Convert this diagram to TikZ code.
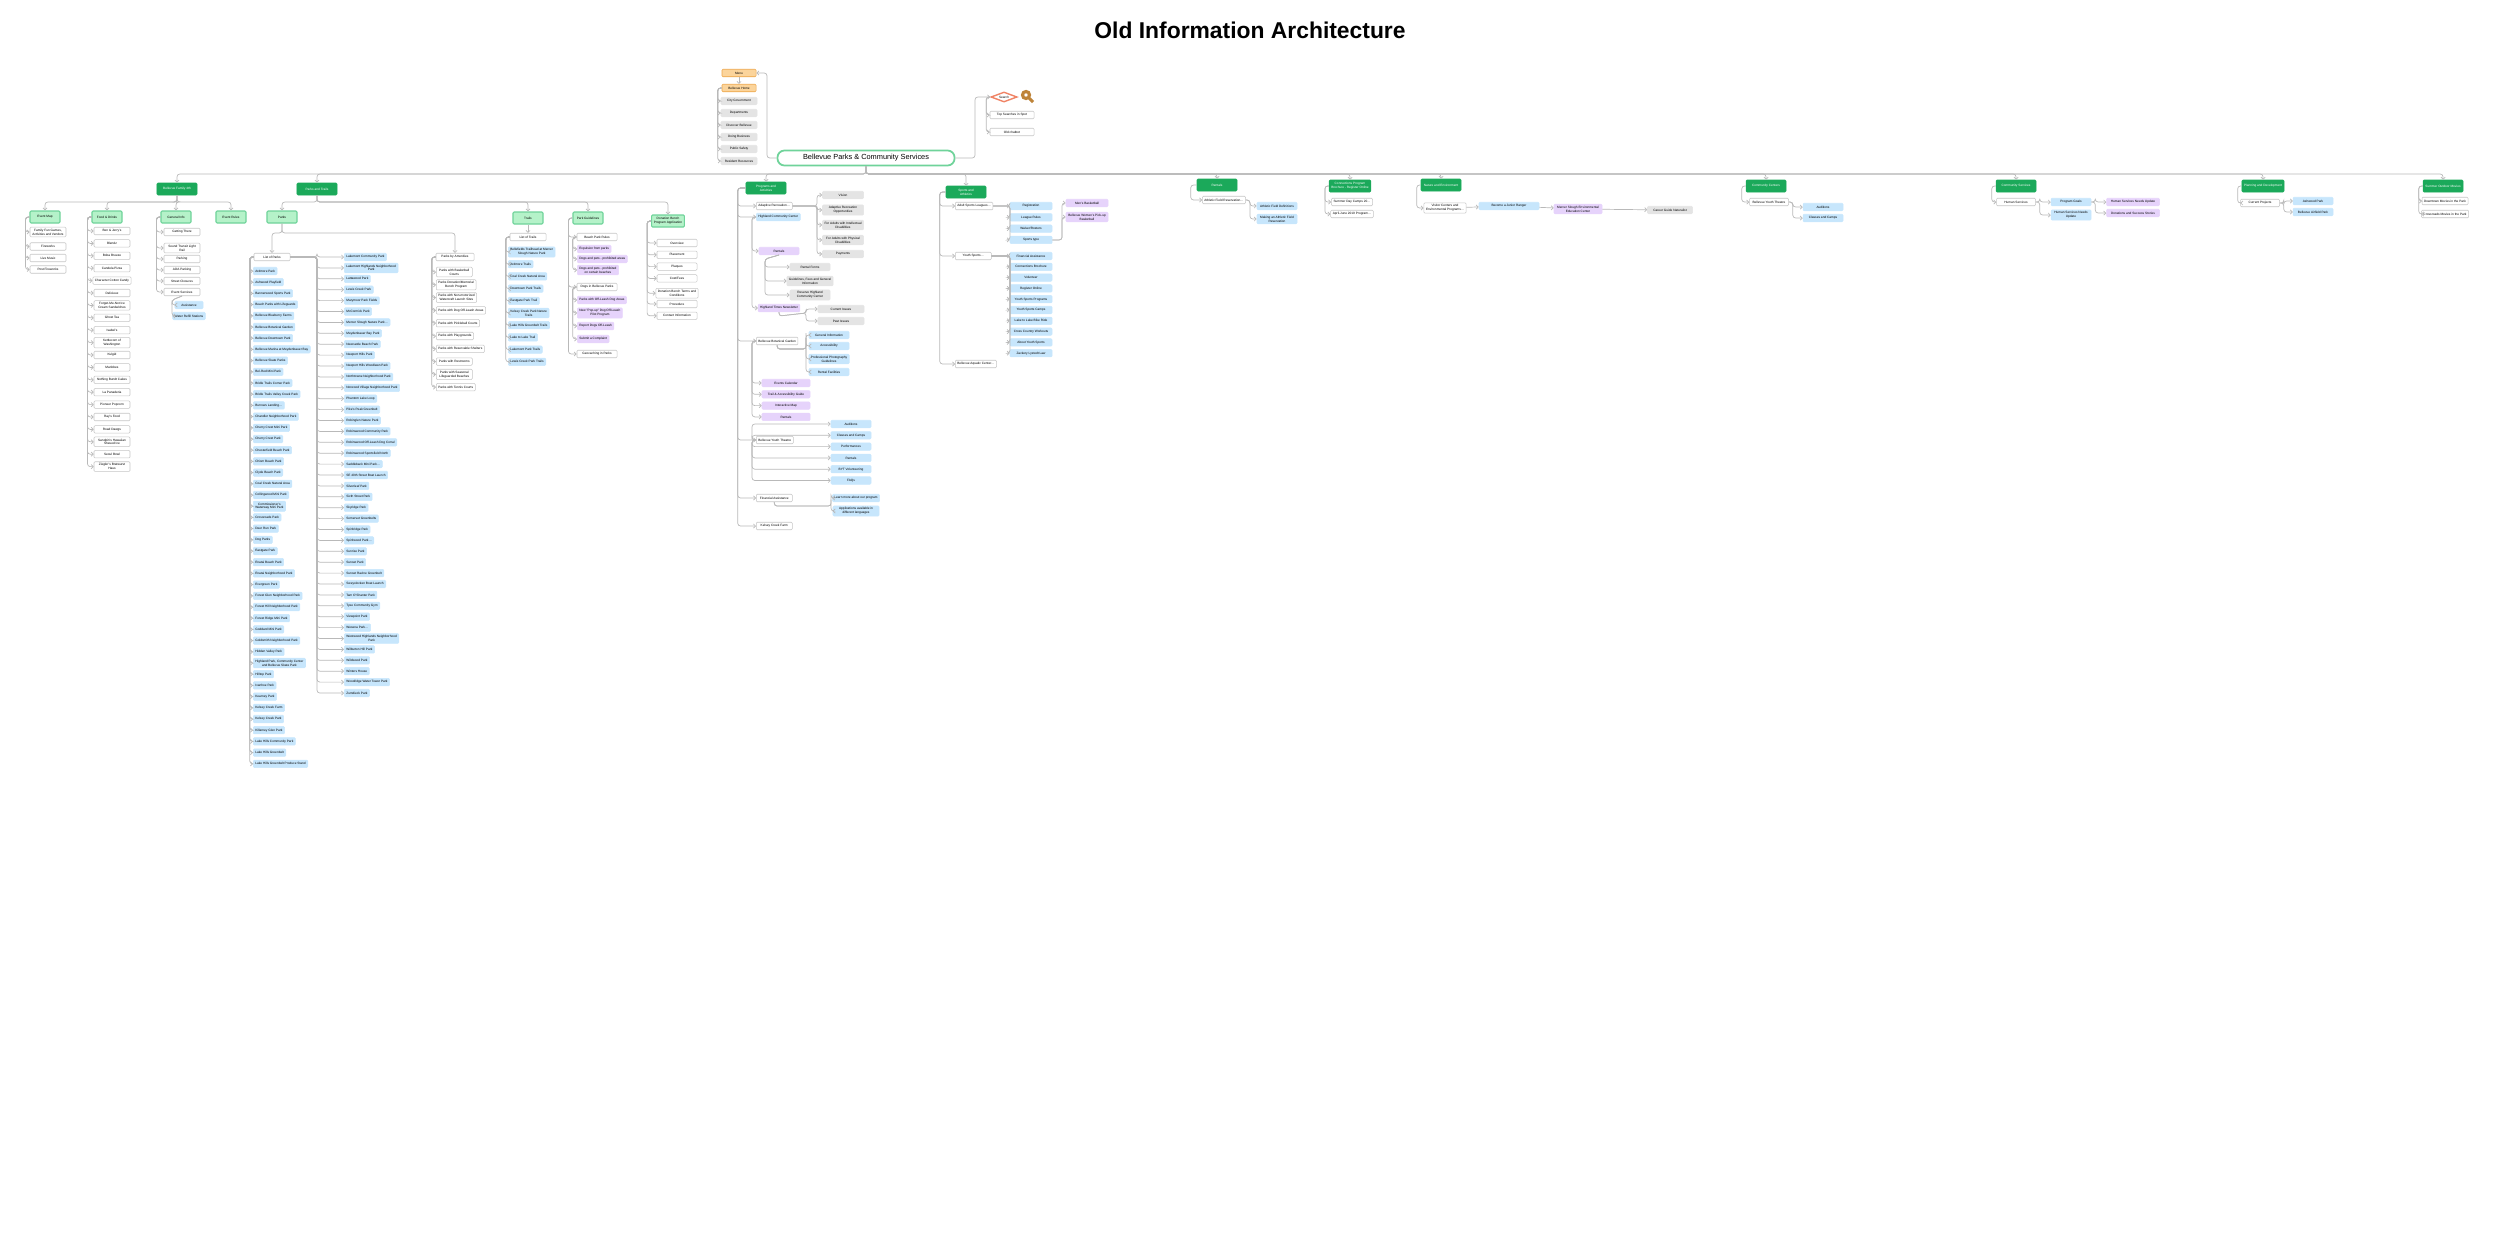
\documentclass[tikz,border=0pt]{standalone}
\usepackage{fontspec}
\setmainfont{Liberation Sans}
\usetikzlibrary{shapes.geometric,arrows.meta}
\definecolor{topgreen}{HTML}{1BA95A}
\definecolor{secgreen}{HTML}{B5F2C9}
\definecolor{secline}{HTML}{6FD39A}
\definecolor{bluefill}{HTML}{C7E6FC}
\definecolor{purfill}{HTML}{E6D3FB}
\definecolor{gryfill}{HTML}{E4E4E4}
\definecolor{orgfill}{HTML}{FBD49B}
\definecolor{orgline}{HTML}{EDA548}
\definecolor{srchline}{HTML}{F08466}
\tikzset{
  box/.style={draw=gray!45,fill=white,line width=0.15pt,rounded corners=0.3pt,inner xsep=0.6pt,inner ysep=0.5pt,
    minimum height=0.075cm,align=center,font=\fontsize{0.9}{1.1}\selectfont},
  leaf/.style={box,minimum width=0.36cm},
  blu/.style={box,fill=bluefill,draw=bluefill},
  pur/.style={box,fill=purfill,draw=purfill},
  gry/.style={box,fill=gryfill,draw=gryfill,minimum width=0.36cm},
  org/.style={box,fill=orgfill,draw=orgline,minimum width=0.34cm},
  top/.style={box,fill=topgreen,draw=topgreen,text=white,minimum width=0.4cm,minimum height=0.12cm},
  sec/.style={box,fill=secgreen,draw=secline,line width=0.3pt,minimum width=0.3cm,minimum height=0.12cm},
  link/.style={draw=gray!55,line width=0.2pt,rounded corners=0.8pt,-{Straight Barb[length=0.6pt,width=1.2pt,line width=0.2pt]}},
}
\begin{document}
\begin{tikzpicture}[x=0.01cm,y=-0.01cm]
\useasboundingbox (0,0) rectangle (2500,1251);
\node[font=\fontsize{6.5}{8}\selectfont\bfseries] (title) at (1250,30) {Old Information Architecture};
% root and site menu
\node[box,draw=secline,line width=0.5pt,rounded corners=0.07cm,minimum width=1.77cm,minimum height=0.15cm,
  font=\fontsize{2.1}{2.5}\selectfont] (root) at (866,158) {Bellevue Parks \& Community Services};
\node[org] (menu) at (739,73) {Menu};
\node[org] (home) at (739,88) {Bellevue Home};
\draw[link] (root.west) -- (767,158) |- (menu.east);
\draw[link] (menu) -- (home);
\foreach \t [count=\i] in {City Government,Departments,Discover Bellevue,Doing Business,Public Safety,Resident Resources}
  {\node[gry] (mn\i) at (739,{101+12*(\i-1)}) {\t};
   \draw[link] (home.west) -- ++(-4,0) |- (mn\i.west);}
\node[diamond,draw=srchline,line width=0.4pt,aspect=2.6,inner sep=0.4pt,font=\fontsize{0.9}{1.1}\selectfont] (search) at (1004,97) {Search};
\draw[draw=orgline!80!black,line width=0.9pt] (1026,95) circle (3.5) (1029,98) -- (1033,102);
\node[leaf,minimum width=0.44cm] (topsr) at (1012,115) {Top Searches in Spot};
\node[leaf,minimum width=0.44cm] (chat) at (1012,132) {Old chatbot};
\draw[link] (root.east) -- (975,158) |- (search.west);
\draw[link] (search.west) -- ++(-4,0) |- (topsr.west);
\draw[link] (search.west) -- ++(-4,0) |- (chat.west);
% top level
\foreach \n/\x/\y/\t in {fam/177/189/Bellevue Family 4th,pat/317/189/Parks and Trails,
  prg/766/188/Programs and\\Activities,spa/966/192/Sports and\\Athletics,ren/1217/185/Rentals,
  con/1350/186/Connections Program\\Brochure - Register Online,nat/1441/185/Nature and Environment,
  cce/1766/186/Community Centers,cse/2016/186/Community Services,pad/2263/186/Planning and Development,
  som/2443/186/Summer Outdoor Movies}
  {\node[top] (\n) at (\x,\y) {\t};
   \draw[link] (root.south) -- (866,174) -| (\n.north);}
% Bellevue Family 4th
\foreach \n/\x/\t in {emap/45/Event Map,food/107/Food \& Drinks,ginf/176/General Info,erul/231/Event Rules}
  {\node[sec] (\n) at (\x,217) {\t}; \draw[link] (fam.south) -- (177,202) -| (\n.north);}
\foreach \t [count=\i] in {{Family Fun Games,\\Activities and Vendors},Fireworks,Live Music,Post Fireworks}
  {\node[leaf] (em\i) at (48,{232+11.5*(\i-1)+(\i>1)*3}) {\t}; \draw[link] (emap.west) -- ++(-4,0) |- (em\i.west);}
\foreach \t [count=\i] in {Ben \& Jerry's,Blendz,Boba Breeze,Candela Pizza,Character Cotton Candy,Delicieux,
  Forget-Me-Not Ice\\Cream Sandwiches,Ghost Tea,Isabel's,Kettlecorn of\\Washington,Kulgid,Marlobes,Nothing Bundt Cakes,
  La Panaderia,Pioneer Popcorn,Ray's Food,Road Dawgs,Sandpin's Hawaiian\\Shaved Ice,Seoul Bowl,Ziegler's Bratwurst\\Haus}
  {\node[leaf] (fd\i) at (112,{231+12.4*(\i-1)}) {\t}; \draw[link] (food.west) -- ++(-4,0) |- (fd\i.west);}
\foreach \t [count=\i] in {Getting There,Sound Transit Light\\Rail,Parking,ADA Parking,Street Closures,Event Services}
  {\node[leaf] (gi\i) at (182,{232+11*(\i-1)+(\i>1)*5}) {\t}; \draw[link] (ginf.west) -- ++(-4,0) |- (gi\i.west);}
\node[blu,minimum width=0.28cm] (es1) at (189,305) {Assistance};
\node[blu,minimum width=0.28cm] (es2) at (189,316) {Water Refill Stations};
\foreach \c in {es1,es2} \draw[link] (gi6.south) -- ++(-10,4) |- (\c.west);
% Parks and Trails
\foreach \n/\x/\y/\t in {parks/282/217/Parks,trails/528/218/Trails,pgui/588/218/Park Guidelines,
  dben/668/221/Donation Bench\\Program Application}
  {\node[sec] (\n) at (\x,\y) {\t}; \draw[link] (pat.south) -- (317,202) -| (\n.north);}
\node[leaf] (lpk) at (272,257) {List of Parks};
\node[leaf,minimum width=0.38cm] (amen) at (455,257) {Parks by Amenities};
\draw[link] (parks.south) -- (282,233) -| (lpk.north);
\draw[link] (parks.south) -- (282,233) -| (amen.north);
\foreach \t [count=\i] in {Ardmore Park,Ashwood Playfield,Bannerwood Sports Park,Beach Parks with Lifeguards,
  Bellevue Blueberry Farms,Bellevue Botanical Garden,Bellevue Downtown Park,Bellevue Marina at Meydenbauer Bay,
  Bellevue Skate Parks,Bel-Red Mini Park,Bridle Trails Corner Park,Bridle Trails Valley Creek Park,Burrows Landing\dots,
  Chandler Neighborhood Park,Cherry Crest Mini Park,Cherry Crest Park,Chesterfield Beach Park,Chism Beach Park,
  Clyde Beach Park,Coal Creek Natural Area,Collingwood Mini Park,Commissioner's\\Waterway Mini Park,Crossroads Park,
  Deer Run Park,Dog Parks,Eastgate Park,Enatai Beach Park,Enatai Neighborhood Park,Evergreen Park,
  Forest Glen Neighborhood Park,Forest Hill Neighborhood Park,Forest Ridge Mini Park,Goddard Mini Park,
  Goldsmith Neighborhood Park,Hidden Valley Park,{Highland Park, Community Center\\and Bellevue Skate Park},
  Hilltop Park,Ivanhoe Park,Kearney Park,Kelsey Creek Farm,Kelsey Creek Park,Killarney Glen Park,
  Lake Hills Community Park,Lake Hills Greenbelt,Lake Hills Greenbelt Produce Stand}
  {\node[blu,anchor=west] (pa\i) at (253,{271+11.2*(\i-1)}) {\t}; \draw[link] (lpk.west) -- ++(-4,0) |- (pa\i.west);}
\foreach \t [count=\i] in {Lakemont Community Park,Lakemont Highlands Neighborhood\\Park,Lattawood Park,Lewis Creek Park,
  Marymoor Park Fields,McCormick Park,Mercer Slough Nature Park\dots,Meydenbauer Bay Park,Newcastle Beach Park,
  Newport Hills Park,Newport Hills Woodlawn Park,Northtowne Neighborhood Park,Norwood Village Neighborhood Park,
  Phantom Lake Loop,Pike's Peak Greenbelt,Robinglen Nature Park,Robinswood Community Park,
  Robinswood Off-Leash Dog Corral,Robinswood Sportsfield North,Saddleback Mini Park\dots,SE 40th Street Boat Launch,
  Silverleaf Park,Sixth Street Park,Skyridge Park,Somerset Greenbelts,Spiritridge Park,Spiritwood Park\dots,
  Sunrise Park,Sunset Park,Sunset Ravine Greenbelt,Sweyolocken Boat Launch,Tam O'Shanter Park,Tyee Community Gym,
  Viewpoint Park,Wesena Park\dots,Westwood Highlands Neighborhood\\Park,Wilburton Hill Park,Wildwood Park,
  Winters House,Woodridge Water Tower Park,Zumdieck Park}
  {\node[blu,anchor=west] (pb\i) at (344,{257+10.9*(\i-1)}) {\t}; \draw[link] (lpk.east) -- (317,257) |- (pb\i.west);}
\foreach \t [count=\i] in {Parks with Basketball\\Courts,Parks Donation/Memorial\\Bench Program,
  Parks with Non-motorized\\Watercraft Launch Sites,Parks with Dog Off-Leash Areas,Parks with Pickleball Courts,
  Parks with Playgrounds,Parks with Reservable Shelters,Parks with Restrooms,Parks with Seasonal\\Lifeguarded Beaches,
  Parks with Tennis Courts}
  {\node[leaf,anchor=west] (am\i) at (436,{272+12.8*(\i-1)}) {\t}; \draw[link] (amen.west) -- ++(-4,0) |- (am\i.west);}
\node[leaf] (ltr) at (528,237) {List of Trails};
\draw[link] (trails) -- (ltr);
\foreach \t [count=\i] in {Bellefields Trailhead at Mercer\\Slough Nature Park,Ardmore Trails,Coal Creek Natural Area,
  Downtown Park Trails,Eastgate Park Trail,Kelsey Creek Park Nature\\Trails,Lake Hills Greenbelt Trails,
  Lake to Lake Trail,Lakemont Park Trails,Lewis Creek Park Trails}
  {\node[blu,anchor=west] (tr\i) at (508,{252+12.2*(\i-1)}) {\t}; \draw[link] (ltr.west) -- ++(-4,0) |- (tr\i.west);}
\foreach \n/\y/\t in {g1/237/Beach Park Rules,g2/287/Dogs in Bellevue Parks,g3/354/Geocaching in Parks}
  {\node[leaf,minimum width=0.4cm] (\n) at (597,\y) {\t}; \draw[link] (pgui.west) -- ++(-4,0) |- (\n.west);}
\foreach \t [count=\i] in {Expulsion from parks,Dogs and pets - prohibited areas,Dogs and pets - prohibited\\on certain beaches}
  {\node[pur,anchor=west] (gb\i) at (577,{249+10*(\i-1)+(\i>2)*1}) {\t}; \draw[link] (g1.west) -- ++(-4,0) |- (gb\i.west);}
\foreach \t [count=\i] in {Parks with Off-Leash Dog Areas,New "Pop-up" Dog Off-Leash\\Pilot Program,Report Dogs Off-Leash,Submit a Complaint}
  {\node[pur,anchor=west] (gd\i) at (577,{300+13*(\i-1)}) {\t}; \draw[link] (g2.west) -- ++(-4,0) |- (gd\i.west);}
\foreach \t [count=\i] in {Overview,Placement,Plaques,Cost/Fees,Donation Bench Terms and\\Conditions,Procedure,Contact Information}
  {\node[leaf,minimum width=0.4cm] (db\i) at (677,{243+11.8*(\i-1)+(\i>4)*3-(\i>5)*1}) {\t}; \draw[link] (dben.west) -- ++(-4,0) |- (db\i.west);}
% Programs and Activities
\foreach \n/\s/\y/\t in {ar/leaf/206/Adaptive Recreation\dots,hcc/blu/217/Highland Community Center,
  bbg/leaf/341/Bellevue Botanical Garden,byt/leaf/440/Bellevue Youth Theatre,fin/leaf/498/Financial Assistance,
  kcf/leaf/526/Kelsey Creek Farm}
  {\node[\s,anchor=west] (\n) at (756,\y) {\t}; \draw[link] (prg.west) -- ++(-8,0) |- (\n.west);}
\foreach \t [count=\i] in {Vision,Adaptive Recreation\\Opportunities,For Adults with Intellectual\\Disabilities,
  For Adults with Physical\\Disabilities,Payments}
  {\node[gry,minimum width=0.41cm] (av\i) at (843,{195+15*(\i-1)-(\i>4)*1}) {\t}; \draw[link] (ar.east) -- (817,206) |- (av\i.west);}
\node[pur,minimum width=0.4cm] (hre) at (779,251) {Rentals};
\node[pur,minimum width=0.4cm] (htn) at (779,308) {Highland Times Newsletter};
\foreach \c in {hre,htn} \draw[link] (hcc.west) -- ++(-4,0) |- (\c.west);
\foreach \t [count=\i] in {Rental Forms,{Guidelines, Fees and General\\Information},Reserve Highland\\Community Center}
  {\node[gry,minimum width=0.4cm] (rf\i) at (810,{267+14*(\i-1)}) {\t}; \draw[link] (hre.south) -- ++(-14,4) |- (rf\i.west);}
\foreach \t [count=\i] in {Current Issues,Past Issues}
  {\node[gry,minimum width=0.46cm] (ci\i) at (841,{309+12*(\i-1)}) {\t}; \draw[link] (htn.south) -- ++(0,4) -- (806,313) |- (ci\i.west);}
\foreach \t [count=\i] in {General Information,Accessibility,Professional Photography\\Guidelines,Rental Facilities}
  {\node[blu,minimum width=0.4cm] (bg\i) at (829,{335+11*(\i-1)+(\i>2)*2+(\i>3)*2}) {\t}; \draw[link] (bbg.south) -- ++(0,4) -| (806,336) |- (bg\i.west);}
\foreach \t [count=\i] in {Events Calendar,Trail \& Accessibility Guide,Interactive Map,Rentals}
  {\node[pur,minimum width=0.48cm] (bp\i) at (786,{383+11.3*(\i-1)}) {\t}; \draw[link] (bbg.west) -- ++(-4,0) |- (bp\i.west);}
\foreach \t [count=\i] in {Auditions,Classes and Camps,Performances,Rentals,BYT Volunteering,FAQs}
  {\node[blu,minimum width=0.4cm] (yt\i) at (851,{424+11.3*(\i-1)}) {\t}; \draw[link] (byt.west) -- ++(-4,0) |- (yt\i.west);}
\foreach \t [count=\i] in {Learn more about our program,Applications available in\\different languages}
  {\node[blu,minimum width=0.46cm] (fa\i) at (856,{498+13*(\i-1)}) {\t}; \draw[link] (fin.south) -- ++(0,4) -| (831,498) |- (fa\i.west);}
% Sports and Athletics
\node[leaf,anchor=west] (asl) at (955,206) {Adult Sports Leagues\dots};
\node[leaf,anchor=west] (ysp) at (955,256) {Youth Sports\dots};
\node[leaf,anchor=west] (aqc) at (955,364) {Bellevue Aquatic Center\dots};
\foreach \c in {asl,ysp,aqc} \draw[link] (spa.west) -- ++(-6,0) |- (\c.west);
\foreach \t [count=\i] in {Registration,League Rules,Waiver/Rosters,Sports type}
  {\node[blu,minimum width=0.42cm] (sl\i) at (1031,{206+11.3*(\i-1)}) {\t}; \draw[link] (asl.east) -- (1010,206) |- (sl\i.west);}
\node[pur,minimum width=0.42cm] (mbb) at (1087,203) {Men's Basketball};
\node[pur,minimum width=0.42cm] (wbb) at (1087,217) {Bellevue Women's Pick-up\\Basketball};
\foreach \c in {mbb,wbb} \draw[link] (sl4.east) -- (1062,240) |- (\c.west);
\foreach \t [count=\i] in {Financial Assistance,Connections Brochure,Volunteer,Register Online,Youth Sports Programs,
  Youth Sports Camps,Lake to Lake Bike Ride,Cross Country Workouts,About Youth Sports,Zackery Lystedt Law}
  {\node[blu,minimum width=0.42cm] (ys\i) at (1031,{256+10.8*(\i-1)}) {\t}; \draw[link] (ysp.east) -- (1010,256) |- (ys\i.west);}
% Rentals, Connections, Nature
\node[leaf] (afr) at (1224,200) {Athletic Field Reservation\dots};
\draw[link] (ren.west) -- ++(-6,0) |- (afr.west);
\foreach \t [count=\i] in {Athletic Field Definitions,Making an Athletic Field\\Reservation}
  {\node[blu,minimum width=0.4cm] (af\i) at (1277,{206+13*(\i-1)}) {\t}; \draw[link] (afr.east) -- ++(4,0) |- (af\i.west);}
\foreach \t [count=\i] in {Summer Day Camps 20\dots,April-June 2019 Program\dots}
  {\node[leaf] (cn\i) at (1352,{202+12*(\i-1)}) {\t}; \draw[link] (con.west) -- ++(-4,0) |- (cn\i.west);}
\node[leaf] (vce) at (1445,208) {Visitor Centers and\\Environmental Programs\dots};
\draw[link] (nat.west) -- ++(-4,0) |- (vce.west);
\node[blu,minimum width=0.6cm] (jr) at (1509,206) {Become a Junior Ranger};
\node[pur,minimum width=0.48cm] (mse) at (1578,209) {Mercer Slough Environmental\\Education Center};
\node[gry,minimum width=0.45cm] (cgn) at (1670,210) {Career Guide Naturalist};
\draw[link] (vce) -- (jr); \draw[link] (jr) -- (mse); \draw[link] (mse) -- (cgn);
% Community Centers, Services, Planning, Movies
\node[leaf,minimum width=0.39cm] (ytc) at (1769,202) {Bellevue Youth Theatre};
\draw[link] (cce.west) -- ++(-4,0) |- (ytc.west);
\foreach \t [count=\i] in {Auditions,Classes and Camps}
  {\node[blu,minimum width=0.4cm] (cc\i) at (1823,{207+11*(\i-1)}) {\t}; \draw[link] (ytc.east) -- ++(4,0) |- (cc\i.west);}
\node[leaf,minimum width=0.39cm] (hsv) at (2016,202) {Human Services};
\draw[link] (cse.west) -- ++(-4,0) |- (hsv.west);
\foreach \t [count=\i] in {Program Goals,Human Services Needs\\Update}
  {\node[blu,minimum width=0.4cm] (hs\i) at (2071,{202+13*(\i-1)}) {\t}; \draw[link] (hsv.east) -- ++(4,0) |- (hs\i.west);}
\foreach \t [count=\i] in {Human Services Needs Update,Donations and Success Stories}
  {\node[pur,minimum width=0.53cm] (hp\i) at (2133,{202+11*(\i-1)}) {\t}; \draw[link] (hs1.east) -- ++(4,0) |- (hp\i.west);}
\node[leaf,minimum width=0.39cm] (cpr) at (2260,203) {Current Projects};
\draw[link] (pad.west) -- ++(-4,0) |- (cpr.west);
\foreach \t [count=\i] in {Ashwood Park,Bellevue Airfield Park}
  {\node[blu,minimum width=0.4cm] (pd\i) at (2313,{201+11*(\i-1)}) {\t}; \draw[link] (cpr.east) -- ++(4,0) |- (pd\i.west);}
\foreach \t [count=\i] in {Downtown Movies in the Park,Crossroads Movies in the Park}
  {\node[leaf,minimum width=0.46cm] (mv\i) at (2445,{201+13*(\i-1)}) {\t}; \draw[link] (som.west) -- ++(-4,0) |- (mv\i.west);}
\end{tikzpicture}
\end{document}
